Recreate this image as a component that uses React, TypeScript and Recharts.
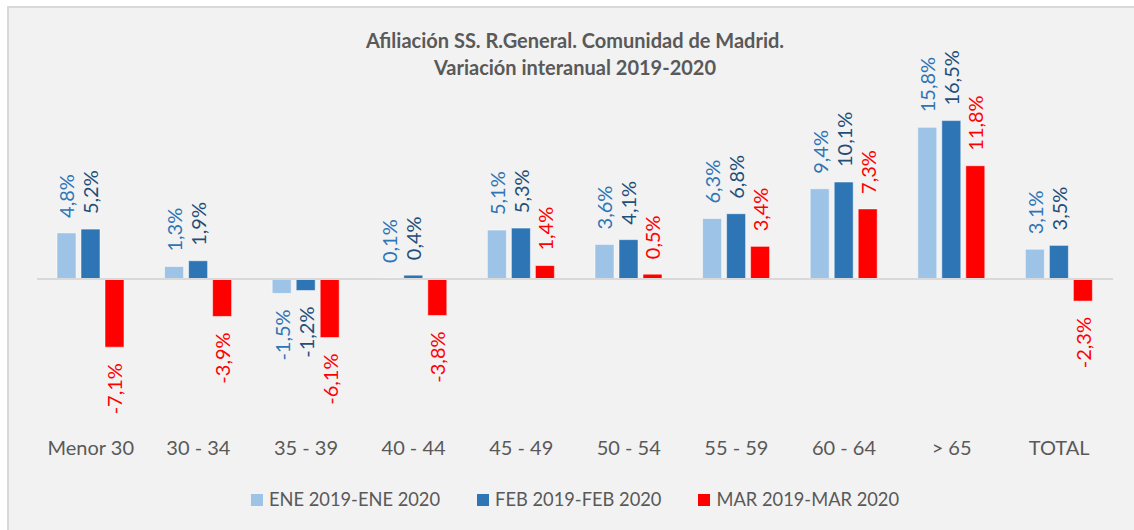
import { BarChart, Bar, XAxis, YAxis, ReferenceLine, LabelList } from 'recharts'

const categorias = ['Menor 30', '30 - 34', '35 - 39', '40 - 44', '45 - 49', '50 - 54', '55 - 59', '60 - 64', '> 65', 'TOTAL']
const ene = [4.8, 1.3, -1.5, 0.1, 5.1, 3.6, 6.3, 9.4, 15.8, 3.1]
const feb = [5.2, 1.9, -1.2, 0.4, 5.3, 4.1, 6.8, 10.1, 16.5, 3.5]
const mar = [-7.1, -3.9, -6.1, -3.8, 1.4, 0.5, 3.4, 7.3, 11.8, -2.3]

const series = [
    { key: 'ene', name: 'ENE 2019-ENE 2020', fill: '#9DC3E6', label: '#2E75B6' },
    { key: 'feb', name: 'FEB 2019-FEB 2020', fill: '#2E75B6', label: '#1F4E79' },
    { key: 'mar', name: 'MAR 2019-MAR 2020', fill: '#FF0000', label: '#FF0000' },
]

const data = categorias.map((cat, i) => ({ cat, ene: ene[i], feb: feb[i], mar: mar[i] }))

const FONT = 'Lato, "Open Sans", sans-serif'
const GRIS = '#595959'

function fmt(v: number) {
    return `${v.toFixed(1).replace('.', ',')}%`
}

function makeLabel(color: string) {
    return (props: any) => {
        const vb = props.viewBox ?? props
        const x = Number(vb.x ?? props.x)
        const y = Number(vb.y ?? props.y)
        const w = Number(vb.width ?? props.width)
        const h = Number(vb.height ?? props.height)
        const v = Number(props.value)
        const cx = x + w / 2
        const top = Math.min(y, y + h)
        const bottom = Math.max(y, y + h)
        const ay = v >= 0 ? top - 15 : bottom + 16
        return (
            <text
                x={cx}
                y={ay}
                transform={`rotate(-90 ${cx} ${ay})`}
                textAnchor={v >= 0 ? 'start' : 'end'}
                dominantBaseline="central"
                fill={color}
                fontSize={20}
                fontFamily={FONT}
            >
                {fmt(v)}
            </text>
        )
    }
}

function CatTick(props: any) {
    const { x, y, payload } = props
    return (
        <text x={x} y={y + 32} textAnchor="middle" fill={GRIS} fontSize={20} fontFamily={FONT}>
            {payload.value}
        </text>
    )
}

export default function App() {
    return (
        <div style={{ position: 'fixed', left: 0, top: 0, width: 1134, height: 530, overflow: 'hidden', background: '#fff' }}>
            <div
                style={{
                    position: 'absolute',
                    left: 7,
                    top: 6,
                    width: 1140,
                    height: 540,
                    border: '2px solid #d9d9d9',
                    background: '#f2f2f2',
                }}
            />
            <div
                style={{
                    position: 'absolute',
                    left: 37,
                    width: 1076,
                    top: 27,
                    textAlign: 'center',
                    fontFamily: FONT,
                    fontWeight: 700,
                    fontSize: 20,
                    lineHeight: '27px',
                    color: GRIS,
                }}
            >
                <div>Afiliación SS. R.General. Comunidad de Madrid.</div>
                <div>Variación interanual 2019-2020</div>
            </div>
            <div style={{ position: 'absolute', left: 0, top: 0 }}>
                <BarChart
                    width={1134}
                    height={530}
                    data={data}
                    margin={{ top: 87, right: 21, left: 37, bottom: 77 }}
                    barSize={19}
                    barGap={5}
                >
                    <XAxis
                        dataKey="cat"
                        axisLine={false}
                        tickLine={false}
                        tickSize={0}
                        tickMargin={0}
                        height={30}
                        interval={0}
                        tick={<CatTick />}
                    />
                    <YAxis hide domain={[-15, 20]} />
                    <ReferenceLine y={0} stroke="#d9d9d9" strokeWidth={2} />
                    {series.map((s) => (
                        <Bar
                            key={s.key}
                            dataKey={s.key}
                            name={s.name}
                            fill={s.fill}
                            stroke="#ffffff"
                            strokeOpacity={0.5}
                            strokeWidth={1}
                            isAnimationActive={false}
                        >
                            <LabelList dataKey={s.key} content={makeLabel(s.label)} />
                        </Bar>
                    ))}
                </BarChart>
            </div>
            <div
                style={{
                    position: 'absolute',
                    left: 37,
                    width: 1076,
                    top: 487,
                    display: 'flex',
                    justifyContent: 'center',
                    gap: 37,
                    fontFamily: FONT,
                    fontSize: 18.3,
                    color: GRIS,
                    lineHeight: '24px',
                }}
            >
                {series.map((s) => (
                    <div key={s.key} style={{ display: 'flex', alignItems: 'center', gap: 6 }}>
                        <span style={{ width: 12, height: 12, background: s.fill, display: 'inline-block', marginTop: 1 }} />
                        <span>{s.name}</span>
                    </div>
                ))}
            </div>
        </div>
    )
}
